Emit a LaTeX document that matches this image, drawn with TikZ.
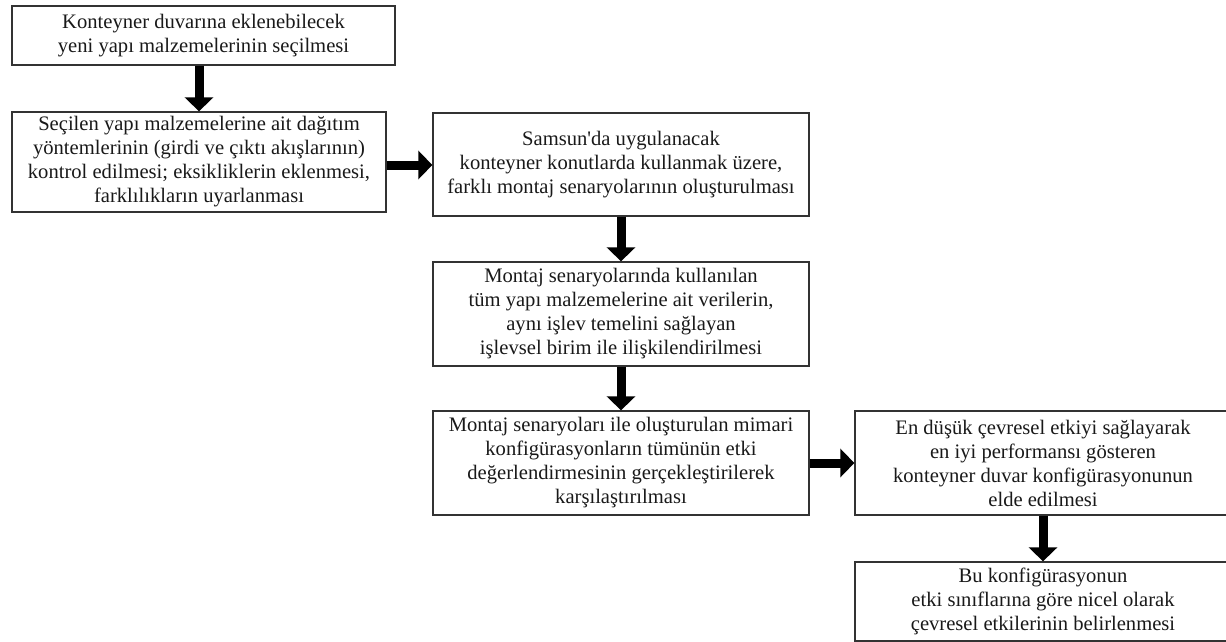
\documentclass[tikz,border=0pt]{standalone}
\usepackage{fontspec}
\setmainfont{Liberation Serif}
\usetikzlibrary{arrows.meta}
\begin{document}
\begin{tikzpicture}[x=1pt,y=-1pt,
  box/.style={draw=black!80, line width=1.3pt, align=center, inner sep=0pt,
    font=\fontsize{20.6}{24}\selectfont, text=black!90},
  bigarrow/.style={line width=9pt, -{Triangle[width=28pt,length=14pt]}, black}
]
\useasboundingbox (0,0) rectangle (1226,642);
\node[box, minimum width=383pt, minimum height=59pt] (b1) at (203.5,35.5)
  {Konteyner duvarına eklenebilecek\\yeni yapı malzemelerinin seçilmesi};
\node[box, minimum width=374pt, minimum height=100pt] (b2) at (199,162)
  {Seçilen yapı malzemelerine ait dağıtım\\yöntemlerinin (girdi ve çıktı akışlarının)\\kontrol edilmesi; eksikliklerin eklenmesi,\\farklılıkların uyarlanması};
\node[box, minimum width=376pt, minimum height=103pt] (b3) at (621,164.5)
  {Samsun\textquotesingle da uygulanacak\\konteyner konutlarda kullanmak üzere,\\farklı montaj senaryolarının oluşturulması};
\node[box, minimum width=376pt, minimum height=104pt] (b4) at (621,314)
  {Montaj senaryolarında kullanılan\\tüm yapı malzemelerine ait verilerin,\\aynı işlev temelini sağlayan\\işlevsel birim ile ilişkilendirilmesi};
\node[box, minimum width=376pt, minimum height=104pt] (b5) at (621,463)
  {Montaj senaryoları ile oluşturulan mimari\\konfigürasyonların tümünün etki\\değerlendirmesinin gerçekleştirilerek\\karşılaştırılması};
\node[box, minimum width=376pt, minimum height=104pt] (b6) at (1043,463)
  {En düşük çevresel etkiyi sağlayarak\\en iyi performansı gösteren\\konteyner duvar konfigürasyonunun\\elde edilmesi};
\node[box, minimum width=376pt, minimum height=79pt] (b7) at (1043,601.5)
  {Bu konfigürasyonun\\etki sınıflarına göre nicel olarak\\çevresel etkilerinin belirlenmesi};
\draw[bigarrow] (b2.north |- b1.south) -- (b2.north);
\draw[bigarrow] (b2.east |- 0,165) -- (b3.west |- 0,165);
\draw[bigarrow] (b3.south) -- (b4.north);
\draw[bigarrow] (b4.south) -- (b5.north);
\draw[bigarrow] (b5.east) -- (b6.west);
\draw[bigarrow] (b6.south) -- (b7.north);
\end{tikzpicture}
\end{document}
